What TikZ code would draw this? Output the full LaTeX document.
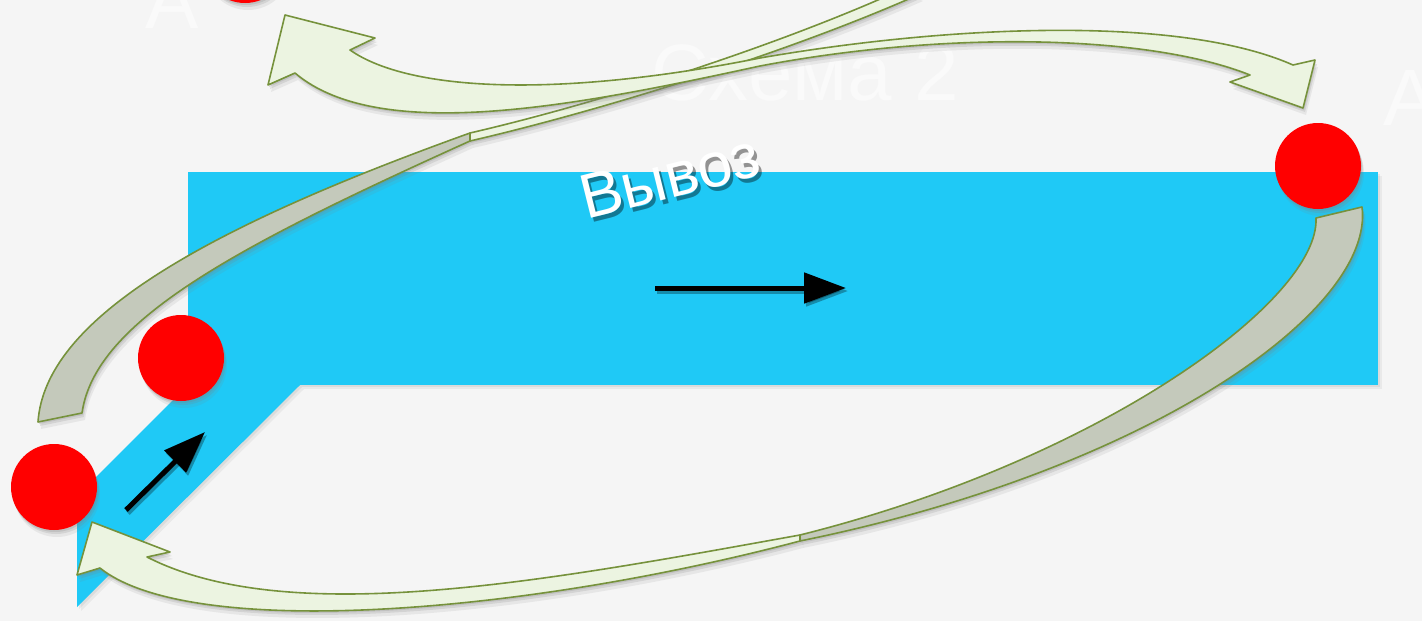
\documentclass[tikz,border=0pt]{standalone}
\usepackage{fontspec}
\setmainfont{Liberation Sans}
\usetikzlibrary{arrows.meta,shadows}
\definecolor{bg}{RGB}{245,245,245}
\definecolor{faintw}{RGB}{250,250,250}
\definecolor{cyanb}{RGB}{31,201,246}
\definecolor{olivel}{RGB}{118,146,60}
\definecolor{lgreen}{RGB}{236,244,225}
\definecolor{bgray}{RGB}{196,201,187}
\begin{document}
\begin{tikzpicture}[x=1pt,y=-1pt,
  softsh/.style={drop shadow={opacity=.22,shadow xshift=1pt,shadow yshift=-2pt},
                 drop shadow={opacity=.18,shadow xshift=2pt,shadow yshift=-4pt},
                 drop shadow={opacity=.12,shadow xshift=3pt,shadow yshift=-7pt}},
  lightsh/.style={drop shadow={opacity=.12,shadow xshift=2pt,shadow yshift=-2pt},
                 drop shadow={opacity=.10,shadow xshift=4pt,shadow yshift=-4pt}},
  redc/.style={circle,fill=red,minimum size=86pt,inner sep=0pt,softsh},
  bandg/.style={fill=lgreen,draw=olivel,line width=1.6pt,line join=round,softsh},
  bandb/.style={fill=bgray,draw=olivel,line width=1.6pt,line join=round,softsh},
  blk/.style={line width=5pt,-{Triangle[length=42pt,width=30pt]}},
  blksh/.style={line width=5pt,-{Triangle[length=42pt,width=30pt]},black,opacity=.3},
  faint/.style={text=faintw,font=\fontsize{80}{80}\selectfont,inner sep=0pt},
  vyv/.style={rotate=14,anchor=base,font=\fontsize{63}{66}\selectfont}]
\useasboundingbox (0,0) rectangle (1422,621);
\fill[bg] (0,0) rectangle (1422,621);
% faint title texts
\node[faint,anchor=base] (t1) at (805,100) {Схема 2};
\node[faint,anchor=base] (t2) at (172,28) {А};
\node[faint,anchor=base west] (t3) at (1383,125) {А};
% cyan road
\path[fill=cyanb,lightsh] (188,172) rectangle (1378,385);
\path[fill=cyanb,lightsh] (77,607) -- (77,496) -- (188,385) -- (300,385) -- cycle;
\fill[cyanb] (188,172) rectangle (1378,385);
% red points
\node[redc] (p1) at (54,487) {};
\node[redc] (p2) at (181,358) {};
\node[redc] (p3) at (1318,166) {};
\node[redc] (p4) at (245,-40) {};
% black arrows
\coordinate (h1) at (655,288);
\coordinate (h2) at (846,288);
\coordinate (d1) at (126,510);
\coordinate (d2) at (205,432);
\draw[blksh,transform canvas={shift={(2pt,-3pt)}}] (h1) -- (h2);
\draw[blksh,transform canvas={shift={(2pt,-3pt)}}] (d1) -- (d2);
\draw[blk] (h1) -- (h2);
\draw[blk] (d1) -- (d2);
% text with shadow
\node[vyv,text=black,opacity=.4] (vs) at (678,201) {Вывоз};
\node[vyv,text=white] (v) at (675,197) {Вывоз};
% loop A (left gray tail up to top)
\path[bandb] (38,422) -- (82,413) .. controls (95,320) and (240,245) .. (470,141)
  -- (470,133) .. controls (200,230) and (45,320) .. (38,422) -- cycle;
\path[bandg] (470,133) .. controls (600,103) and (780,45) .. (905,-12)
  -- (920,-6) .. controls (790,52) and (600,111) .. (470,141) -- cycle;
% loop B (right gray tail down to bottom-left head)
\path[bandb] (1316,218) -- (1362,207) .. controls (1375,310) and (1150,470) .. (800,541)
  -- (800,535) .. controls (1100,460) and (1320,300) .. (1316,218) -- cycle;
\path[bandg] (92,522) -- (170,552) -- (147,557) .. controls (290,630) and (550,580) .. (800,535)
  -- (800,541) .. controls (520,615) and (190,640) .. (100,568) -- (77,575) -- cycle;
% top band with two heads
\path[bandg] (285,15) -- (375,38) -- (350,50) .. controls (410,92) and (560,98) .. (760,58)
  .. controls (950,25) and (1180,15) .. (1293,65)
  -- (1315,60) -- (1303,108) -- (1230,82) -- (1250,75)
  .. controls (1150,35) and (950,30) .. (760,66)
  .. controls (580,105) and (380,145) .. (295,73)
  -- (268,85) -- cycle;
\end{tikzpicture}
\end{document}
